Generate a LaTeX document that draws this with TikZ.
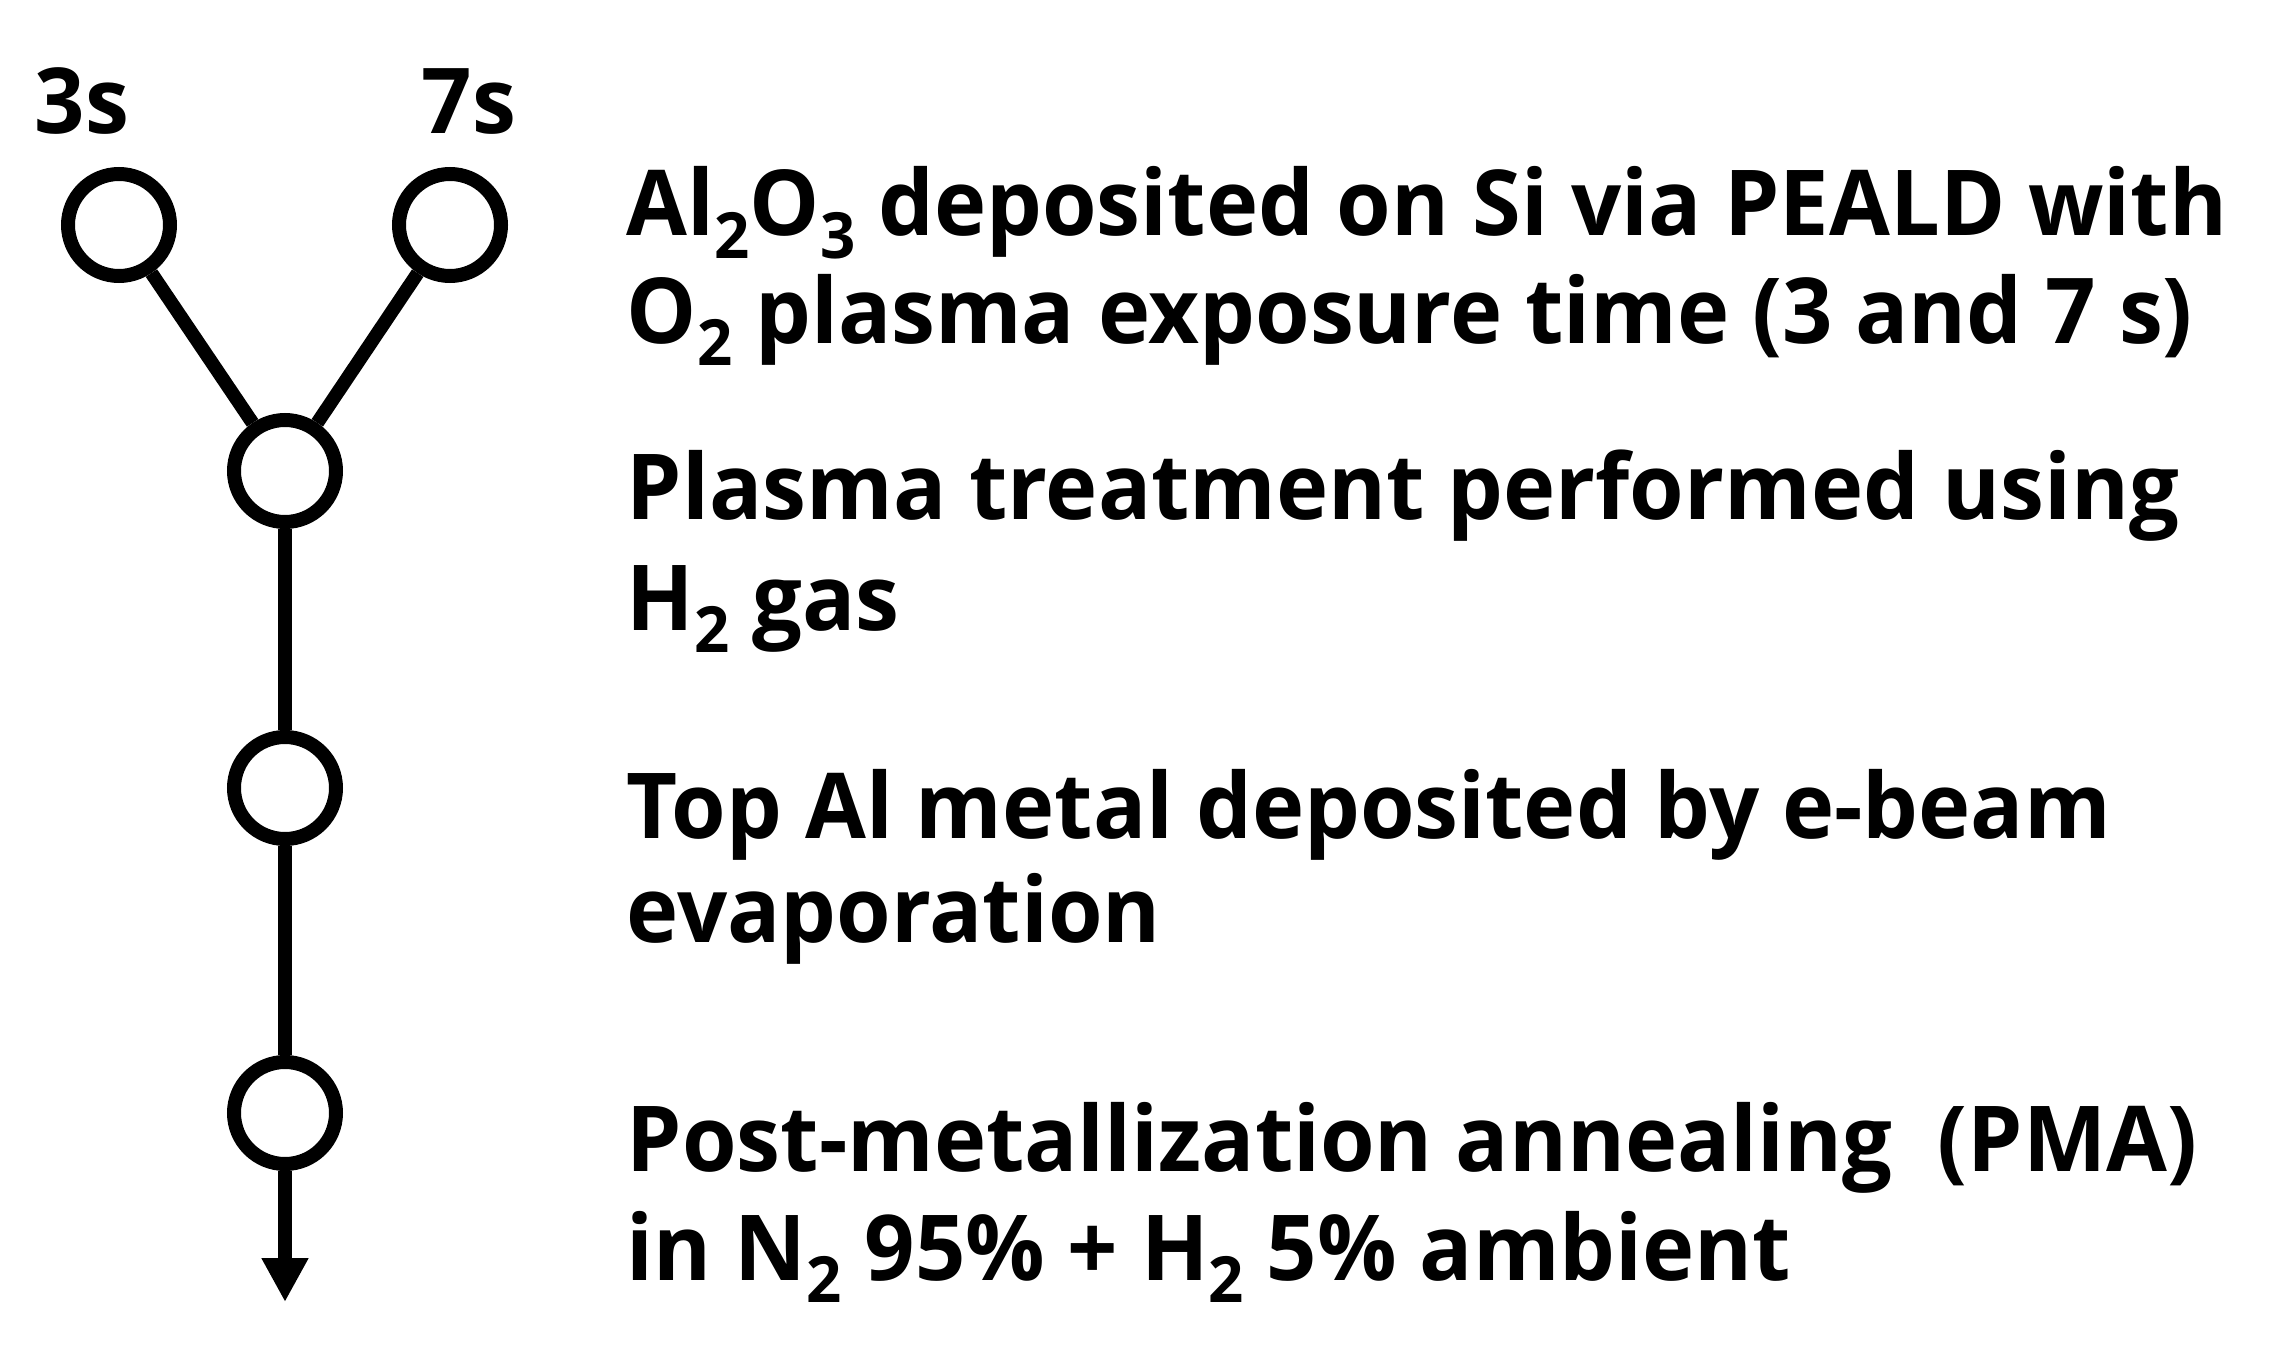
\documentclass[tikz,border=0pt]{standalone}
\usepackage{fontspec}
\setmainfont{Open Sans}[FakeStretch=0.97]
\usetikzlibrary{arrows.meta}
\newcommand{\dn}[1]{\raisebox{-0.25em}{\scalebox{0.7}{#1}}}

\begin{document}
\begin{tikzpicture}[x=0.25pt,y=0.25pt,
  stage/.style={draw,circle,line width=3.5pt,minimum size=25.5pt,inner sep=0pt},
  link/.style={line width=3.4pt},
  tag/.style={font=\fontsize{22.75}{27}\selectfont\bfseries,inner sep=0pt,anchor=base},
  stepline/.style={font=\fontsize{22.75}{27}\selectfont\bfseries,inner sep=0pt,anchor=base west}]
\useasboundingbox (0,0) rectangle (2272,-1348);
% process nodes
\node[stage] (s3) at (119,-225) {};
\node[stage] (s7) at (450,-225) {};
\node[stage] (trt) at (285,-471) {};
\node[stage] (met) at (285,-788) {};
\node[stage] (pma) at (285,-1113) {};
\coordinate (end) at (285,-1302);
\node[tag] (l3) at (82,-134) {3s};
\node[tag] (l7) at (469,-134) {7s};
% connectors
\draw[link] (s3) -- (trt);
\draw[link] (s7) -- (trt);
\draw[link] (trt) -- (met);
\draw[link] (met) -- (pma);
\draw[link,-{Triangle[width=11pt,length=11pt]}] (pma) -- (end);
% step texts
\node[stepline] (d1) at (626,-236) {Al\dn{2}O\dn{3} deposited on Si via PEALD with};
\node[stepline] (d2) at (626,-343) {O\dn{2} plasma exposure time (3 and 7 s)};
\node[stepline] (h1) at (626,-519) {Plasma treatment performed using};
\node[stepline] (h2) at (626,-630) {H\dn{2} gas};
\node[stepline] (e1) at (626,-838) {Top Al metal deposited by e-beam};
\node[stepline] (e2) at (626,-942) {evaporation};
\node[stepline] (a1) at (626,-1171) {Post-metallization annealing\hspace{0.5em}(PMA)};
\node[stepline] (a2) at (626,-1280) {in N\dn{2} 95\% + H\dn{2} 5\% ambient};
\end{tikzpicture}
\end{document}
